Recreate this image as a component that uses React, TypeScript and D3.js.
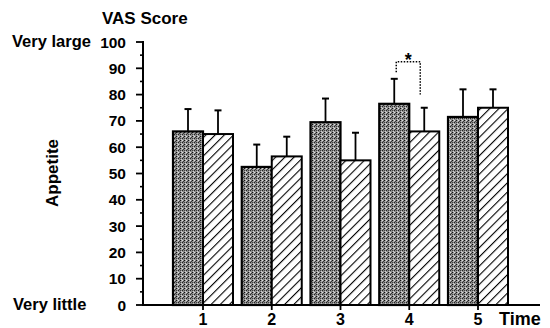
import React from "react";
import * as d3 from "d3";

const times = [1, 2, 3, 4, 5];
const darkValues = [66, 52.5, 69.5, 76.5, 71.5];
const darkErrors = [8.5, 8.5, 9, 9.5, 10.5];
const hatchValues = [65, 56.5, 55, 66, 75];
const hatchErrors = [9, 7.5, 10.5, 9, 7];
const yTicks = [0, 10, 20, 30, 40, 50, 60, 70, 80, 90, 100];
const yMinorTicks = [5, 15, 25, 35, 45, 55, 65, 75, 85, 95];

const W = 550;
const H = 328;
const FONT = "'Liberation Sans', Arial, Helvetica, sans-serif";

export default function App() {
  const x = d3.scaleLinear().domain([1, 5]).range([203, 478]);
  const y = d3.scaleLinear().domain([0, 100]).range([305, 42]);
  const barW = 30;
  const axisX = 143;
  const textStyle = { fontFamily: FONT, fontSize: 16.5, fontWeight: "bold", fill: "#000" } as React.CSSProperties;

  const bracketPath = d3.path();
  const bx1 = x(4) - barW / 2 + 2;
  const bx2 = x(4) + 11;
  bracketPath.moveTo(bx1, y(88.5));
  bracketPath.lineTo(bx1, y(92.5));
  bracketPath.lineTo(bx2, y(92.5));
  bracketPath.lineTo(bx2, y(80));

  return (
    <svg width={W} height={H} style={{ position: "absolute", left: 0, top: 0, background: "#fff" }}>
      <defs>
        <pattern id="stipple" width="4" height="4" patternUnits="userSpaceOnUse">
          <rect width="4" height="4" fill="#8c8c8c" />
          <rect x="0" y="0" width="1" height="1" fill="#111" />
          <rect x="2" y="2" width="1" height="1" fill="#222" />
          <rect x="2" y="0" width="1" height="1" fill="#e0e0e0" />
          <rect x="0" y="2" width="1" height="1" fill="#444" />
          <rect x="1" y="3" width="1" height="1" fill="#cfcfcf" />
          <rect x="3" y="1" width="1" height="1" fill="#3a3a3a" />
          <rect x="1" y="1" width="1" height="1" fill="#b5b5b5" />
        </pattern>
        <pattern id="hatch" width="6.5" height="6.5" patternUnits="userSpaceOnUse" patternTransform="rotate(45)">
          <rect width="6.5" height="6.5" fill="#fff" />
          <line x1="0" y1="0" x2="0" y2="6.5" stroke="#000" strokeWidth="2.2" />
        </pattern>
      </defs>

      {/* bars */}
      {times.map((t, i) => (
        <g key={t}>
          <rect x={x(t) - barW} y={y(darkValues[i])} width={barW} height={y(0) - y(darkValues[i])}
            fill="url(#stipple)" stroke="#000" strokeWidth={2.2} />
          <rect x={x(t)} y={y(hatchValues[i])} width={barW} height={y(0) - y(hatchValues[i])}
            fill="url(#hatch)" stroke="#000" strokeWidth={2} />
          {/* error bars */}
          <line x1={x(t) - barW / 2} x2={x(t) - barW / 2} y1={y(darkValues[i])} y2={y(darkValues[i] + darkErrors[i])} stroke="#000" strokeWidth={1.8} />
          <line x1={x(t) - barW / 2 - 3.5} x2={x(t) - barW / 2 + 3.5} y1={y(darkValues[i] + darkErrors[i])} y2={y(darkValues[i] + darkErrors[i])} stroke="#000" strokeWidth={2} />
          <line x1={x(t) + barW / 2} x2={x(t) + barW / 2} y1={y(hatchValues[i])} y2={y(hatchValues[i] + hatchErrors[i])} stroke="#000" strokeWidth={1.8} />
          <line x1={x(t) + barW / 2 - 3.5} x2={x(t) + barW / 2 + 3.5} y1={y(hatchValues[i] + hatchErrors[i])} y2={y(hatchValues[i] + hatchErrors[i])} stroke="#000" strokeWidth={2} />
        </g>
      ))}

      {/* y axis */}
      <line x1={axisX} x2={axisX} y1={y(100) - 1} y2={y(0) + 1} stroke="#000" strokeWidth={2} />
      {yTicks.map((v) => (
        <g key={v}>
          <line x1={axisX - 7} x2={axisX} y1={y(v)} y2={y(v)} stroke="#000" strokeWidth={1.8} />
          <text x={126} y={y(v) + 5.5} textAnchor="end" style={{ ...textStyle, fontSize: 15.5 }}>{v}</text>
        </g>
      ))}
      {yMinorTicks.map((v) => (
        <line key={v} x1={axisX - 3} x2={axisX} y1={y(v)} y2={y(v)} stroke="#000" strokeWidth={1.6} />
      ))}

      {/* x axis */}
      <line x1={axisX} x2={540} y1={y(0)} y2={y(0)} stroke="#000" strokeWidth={2} />
      {times.map((t) => (
        <g key={t}>
          <line x1={x(t)} x2={x(t)} y1={y(0)} y2={y(0) + 5} stroke="#000" strokeWidth={1.8} />
          <text x={x(t)} y={324.5} textAnchor="middle" style={{ ...textStyle, fontSize: 16 }}>{t}</text>
        </g>
      ))}
      <text x={499} y={324.5} style={{ ...textStyle, fontSize: 18 }}>Time</text>

      {/* labels */}
      <text x={102} y={24} style={{ ...textStyle, fontSize: 17 }}>VAS Score</text>
      <text x={12} y={47} style={textStyle}>Very large</text>
      <text x={13} y={310} style={textStyle}>Very little</text>
      <text transform={`translate(58,173) rotate(-90)`} textAnchor="middle" style={{ ...textStyle, fontSize: 17 }}>Appetite</text>

      {/* significance bracket */}
      <path d={bracketPath.toString()} fill="none" stroke="#000" strokeWidth={1.5} strokeDasharray="1.5,1.5" />
      <text x={(bx1 + bx2) / 2} y={66} textAnchor="middle" style={{ ...textStyle, fontSize: 18 }}>*</text>
    </svg>
  );
}
